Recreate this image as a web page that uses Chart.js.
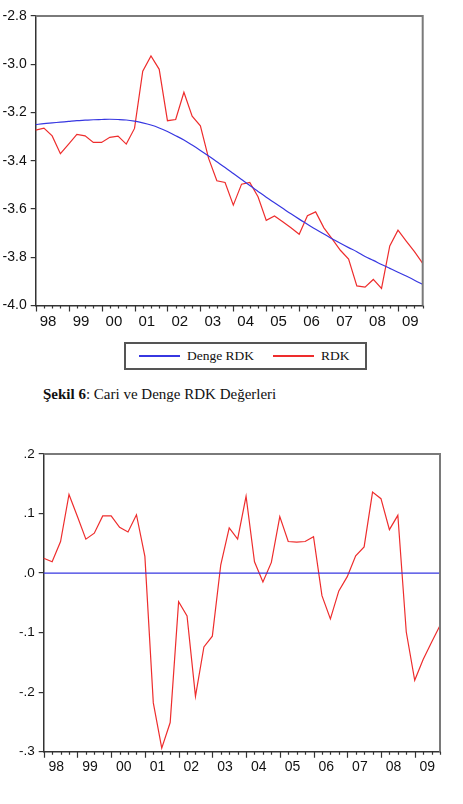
<!DOCTYPE html>
<html>
<head>
<meta charset="utf-8">
<script src="https://cdn.jsdelivr.net/npm/chart.js@4/dist/chart.umd.min.js"></script>
<style>
  html, body { margin: 0; padding: 0; background: #fff; }
  body { width: 463px; height: 804px; position: relative; overflow: hidden; }
  #c1 { position: absolute; left: 0; top: 0; }
  #c2 { position: absolute; left: 0; top: 420px; }
  #legend { position: absolute; left: 124px; top: 342px; width: 239px; height: 24px;
            border: 2px solid #555; font-family: "Liberation Serif", "Times New Roman", serif;
            font-size: 13.5px; color: #111; }
  .li { position: absolute; top: 0; height: 24px; line-height: 24px; white-space: nowrap; }
  .li span.ln { position: absolute; top: 11px; height: 1.5px; width: 41px; }
  .li span.tx { position: absolute; left: 48px; top: 0; }
  #caption { position: absolute; left: 43px; top: 386px; font-family: "Liberation Serif", "Times New Roman", serif;
             font-size: 15px; color: #111; white-space: nowrap; }
</style>
</head>
<body>
<canvas id="c1" width="463" height="340"></canvas>
<div id="legend"></div>
<div id="caption"><b>Şekil 6</b>: Cari ve Denge RDK Değerleri</div>
<canvas id="c2" width="463" height="384"></canvas>
<script>
// ---------- DATA ----------
const years = ['1998','1999','2000','2001','2002','2003','2004','2005','2006','2007','2008','2009'];
const yearLabels = ['98','99','00','01','02','03','04','05','06','07','08','09'];
const quarterNames = ['Q1','Q2','Q3','Q4'];
const quarters = years.flatMap(y => quarterNames.map(q => y + q));

const seriesNames = ['Denge RDK', 'RDK'];

// Denge RDK (blue, smooth)
const dengeRDK = [
  -3.250, -3.246, -3.243, -3.240, -3.237, -3.234, -3.232, -3.230,
  -3.229, -3.228, -3.229, -3.231, -3.236, -3.243, -3.252, -3.264,
  -3.279, -3.296, -3.314, -3.335, -3.357, -3.380, -3.404, -3.428,
  -3.453, -3.478, -3.503, -3.527, -3.551, -3.574, -3.597, -3.620,
  -3.642, -3.663, -3.684, -3.704, -3.723, -3.742, -3.760, -3.777,
  -3.797, -3.813, -3.830, -3.846, -3.862, -3.878, -3.895, -3.913
];
// RDK (red)
const rdk = [
  -3.273, -3.265, -3.297, -3.371, -3.331, -3.291, -3.297, -3.324,
  -3.324, -3.303, -3.298, -3.331, -3.266, -3.029, -2.966, -3.021,
  -3.234, -3.229, -3.116, -3.215, -3.255, -3.390, -3.483, -3.490,
  -3.584, -3.497, -3.490, -3.549, -3.647, -3.629, -3.653, -3.678,
  -3.705, -3.628, -3.612, -3.678, -3.724, -3.771, -3.808, -3.919,
  -3.924, -3.892, -3.929, -3.753, -3.688, -3.733, -3.777, -3.825
];
// Lower chart: difference series (red) and zero reference (blue)
const fark = [
  0.025, 0.019, 0.053, 0.132, 0.095, 0.057, 0.067, 0.096,
  0.096, 0.077, 0.069, 0.098, 0.028, -0.218, -0.294, -0.251,
  -0.048, -0.072, -0.207, -0.124, -0.106, 0.014, 0.076, 0.057,
  0.129, 0.019, -0.015, 0.018, 0.095, 0.053, 0.052, 0.053,
  0.061, -0.038, -0.077, -0.030, -0.006, 0.029, 0.044, 0.136,
  0.125, 0.073, 0.097, -0.099, -0.180, -0.145, -0.116, -0.088
];
const zeroLevel = 0;

const topYTicks = [-4.0, -3.8, -3.6, -3.4, -3.2, -3.0, -2.8];
const topYLabels = ['-4.0', '-3.8', '-3.6', '-3.4', '-3.2', '-3.0', '-2.8'];
const botYTicks = [-0.3, -0.2, -0.1, 0.0, 0.1, 0.2];
const botYLabels = ['-.3', '-.2', '-.1', '.0', '.1', '.2'];

// ---------- STYLE ----------
const RED = 'rgb(238,45,45)';
const BLUE = 'rgb(55,55,225)';
const AXIS = '#333';
const FRAME = '#7a7a7a';
const SANS = '"Liberation Sans", Arial, sans-serif';

// legend (HTML, built from series names)
const legendColors = [BLUE, RED];
const legendLeft = [13, 147];
const legendEl = document.getElementById('legend');
seriesNames.forEach((n, i) => {
  const d = document.createElement('div');
  d.className = 'li';
  d.style.left = legendLeft[i] + 'px';
  d.innerHTML = '<span class="ln" style="background:' + legendColors[i] + '"></span><span class="tx"></span>';
  d.querySelector('.tx').textContent = n;
  legendEl.appendChild(d);
});

// plugin: frame (top/right) and quarterly tick marks on x axis
const framePlugin = {
  id: 'frame',
  afterDraw(chart) {
    const {ctx, chartArea: a, scales: {x}} = chart;
    ctx.save();
    ctx.strokeStyle = FRAME;
    ctx.lineWidth = 2;
    ctx.beginPath();
    ctx.moveTo(a.left, a.top);
    ctx.lineTo(a.right, a.top);
    ctx.lineTo(a.right, a.bottom);
    ctx.stroke();
    ctx.strokeStyle = AXIS;
    ctx.lineWidth = 1.2;
    ctx.beginPath();
    quarters.forEach((q, i) => {
      const px = Math.round(x.getPixelForValue(i)) + 0.5;
      const len = (i % 4 === 0) ? 6 : 3;
      ctx.moveTo(px, a.bottom);
      ctx.lineTo(px, a.bottom + len);
    });
    ctx.stroke();
    ctx.restore();
  }
};

function makeChart(id, datasets, yTicks, yLabels, yFont, xFont, dims) {
  return new Chart(document.getElementById(id), {
    type: 'line',
    data: { labels: quarters, datasets },
    options: {
      responsive: false,
      animation: false,
      devicePixelRatio: 1,
      layout: { padding: { top: dims.top, right: dims.right, left: 0, bottom: 0 } },
      plugins: { legend: { display: false }, tooltip: { enabled: false } },
      elements: { point: { radius: 0 }, line: { borderWidth: 1.2, tension: 0 } },
      scales: {
        x: {
          type: 'category',
          offset: false,
          grid: { display: false, drawTicks: false },
          border: { display: true, color: AXIS, width: 1.5 },
          afterBuildTicks: s => { s.ticks = yearLabels.map((l, k) => ({ value: 4 * k + 1.5 })); },
          afterFit: s => { s.height = dims.xh; },
          ticks: {
            autoSkip: false, maxRotation: 0, minRotation: 0,
            padding: dims.xpad, color: '#111',
            font: { family: SANS, size: xFont },
            callback: (v, i) => yearLabels[i]
          }
        },
        y: {
          min: yTicks[0], max: yTicks[yTicks.length - 1],
          grid: { display: true, drawOnChartArea: false, drawTicks: true, tickLength: 5, color: AXIS, lineWidth: 1.2 },
          border: { display: true, color: AXIS, width: 1.5 },
          afterBuildTicks: s => { s.ticks = yTicks.map(v => ({ value: v })); },
          afterFit: s => { s.width = dims.yw; },
          ticks: {
            padding: 4, color: '#111',
            font: { family: SANS, size: yFont },
            callback: (v, i) => yLabels[i]
          }
        }
      }
    },
    plugins: [framePlugin]
  });
}

makeChart('c1', [
  { label: seriesNames[0], data: dengeRDK, borderColor: BLUE, cubicInterpolationMode: 'monotone' },
  { label: seriesNames[1], data: rdk, borderColor: RED }
], topYTicks, topYLabels, 14, 15, { top: 16, right: 40.3, xh: 34.5, yw: 35.7, xpad: 7 });

makeChart('c2', [
  { label: 'Sıfır', data: quarters.map(() => zeroLevel), borderColor: BLUE },
  { label: 'Fark', data: fark, borderColor: RED }
], botYTicks, botYLabels, 13.5, 14, { top: 34, right: 23, xh: 52.3, yw: 43.7, xpad: 7 });
</script>
</body>
</html>
